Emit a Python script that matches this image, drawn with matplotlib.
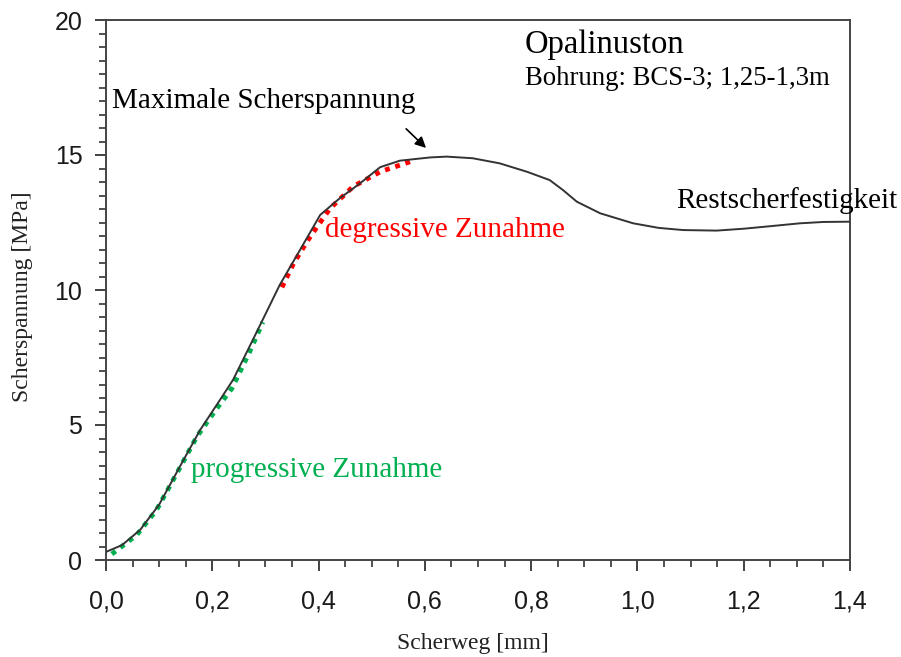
import matplotlib
matplotlib.use("Agg")
import matplotlib.pyplot as plt
from matplotlib.ticker import MultipleLocator, FuncFormatter

# Measured curve (Scherweg [mm], Scherspannung [MPa])
curve_x = [0.0, 0.03, 0.064, 0.10, 0.139, 0.177, 0.2145, 0.239, 0.28, 0.327, 0.365,
           0.403, 0.44, 0.478, 0.516, 0.553, 0.61, 0.641, 0.69, 0.741, 0.792, 0.835,
           0.86, 0.886, 0.93, 0.992, 1.04, 1.086, 1.149, 1.2, 1.243, 1.306, 1.35, 1.4]
curve_y = [0.30, 0.55, 1.11, 2.05, 3.46, 4.81, 5.93, 6.67, 8.3, 10.19, 11.48,
           12.78, 13.4, 13.95, 14.55, 14.79, 14.91, 14.94, 14.88, 14.69, 14.38, 14.07,
           13.7, 13.27, 12.84, 12.47, 12.3, 12.22, 12.2, 12.27, 12.35, 12.47, 12.52, 12.53]

# Progressive increase fit (green)
prog_x = [0.011, 0.058, 0.095, 0.133, 0.171, 0.208, 0.237, 0.27, 0.295]
prog_y = [0.22, 0.93, 1.85, 3.2, 4.57, 5.6, 6.36, 7.7, 8.81]

# Degressive increase fit (red)
degr_x = [0.331, 0.353, 0.384, 0.4215, 0.465, 0.516, 0.578]
degr_y = [10.1, 10.99, 11.97, 13.02, 13.83, 14.38, 14.79]

x_ticks = [0.0, 0.2, 0.4, 0.6, 0.8, 1.0, 1.2, 1.4]
y_ticks = [0, 5, 10, 15, 20]

serif = ["Liberation Serif", "DejaVu Serif"]
sans = ["Liberation Sans", "DejaVu Sans"]

fig = plt.figure(figsize=(9.01, 6.57), dpi=100)
ax = fig.add_axes([106/901, 1-560/657, 744/901, 540/657])

ax.plot(curve_x, curve_y, color="#333333", lw=1.4, zorder=3)
ax.plot(prog_x, prog_y, color="#00b050", lw=3.5, linestyle=(0, (1, 1.2)), zorder=2)
ax.plot(degr_x, degr_y, color="#ff0000", lw=3.5, linestyle=(0, (1, 1.2)), zorder=2)

ax.set_xlim(0, 1.4)
ax.set_ylim(0, 20)
ax.set_xticks(x_ticks)
ax.set_yticks(y_ticks)
ax.xaxis.set_minor_locator(MultipleLocator(0.05))
ax.yaxis.set_minor_locator(MultipleLocator(0.5))
ax.xaxis.set_major_formatter(FuncFormatter(lambda v, p: f"{v:.1f}".replace(".", ",")))
ax.yaxis.set_major_formatter(FuncFormatter(lambda v, p: f"{int(round(v))}"))

ax.tick_params(which="both", direction="out", color="#333333", top=False, right=False)
ax.tick_params(which="major", length=8, width=1.3)
ax.tick_params(axis="x", which="major", pad=13)
ax.tick_params(axis="y", which="major", pad=9)
ax.tick_params(which="minor", length=5, width=1.2)
for lab in ax.get_xticklabels() + ax.get_yticklabels():
    lab.set_family(sans)
    lab.set_fontsize(18)
    lab.set_color("#1a1a1a")
for s in ax.spines.values():
    s.set_color("#444444")
    s.set_linewidth(1.4)

ax.set_xlabel("Scherweg [mm]", family=serif, fontsize=17, va="center", color="#222222")
ax.xaxis.set_label_coords(0.4926, -0.154)
ax.set_ylabel("Scherspannung [MPa]", family=serif, fontsize=17, va="center", color="#222222")
ax.yaxis.set_label_coords(-0.1116, 0.487)

ax.text(0.788, 19.07, "Opalinuston", family=serif, fontsize=23.5, va="center", ha="left")
ax.text(0.788, 17.85, "Bohrung: BCS-3; 1,25-1,3m", family=serif, fontsize=19.3, va="center", ha="left")
ax.text(0.011, 17.0, "Maximale Scherspannung", family=serif, fontsize=21, va="center", ha="left")
ax.text(0.412, 12.22, "degressive Zunahme", family=serif, fontsize=21, va="center", ha="left", color="#ff0000")
ax.text(0.16, 3.33, "progressive Zunahme", family=serif, fontsize=21, va="center", ha="left", color="#00b050")
ax.text(1.073, 13.33, "Restscherfestigkeit", family=serif, fontsize=21, va="center", ha="left", clip_on=False)

ax.annotate("", xy=(0.606, 15.19), xytext=(0.561, 16.04),
            arrowprops=dict(arrowstyle="-|>", color="black", lw=1.2, mutation_scale=16))

fig.savefig("out.png", dpi=100)
